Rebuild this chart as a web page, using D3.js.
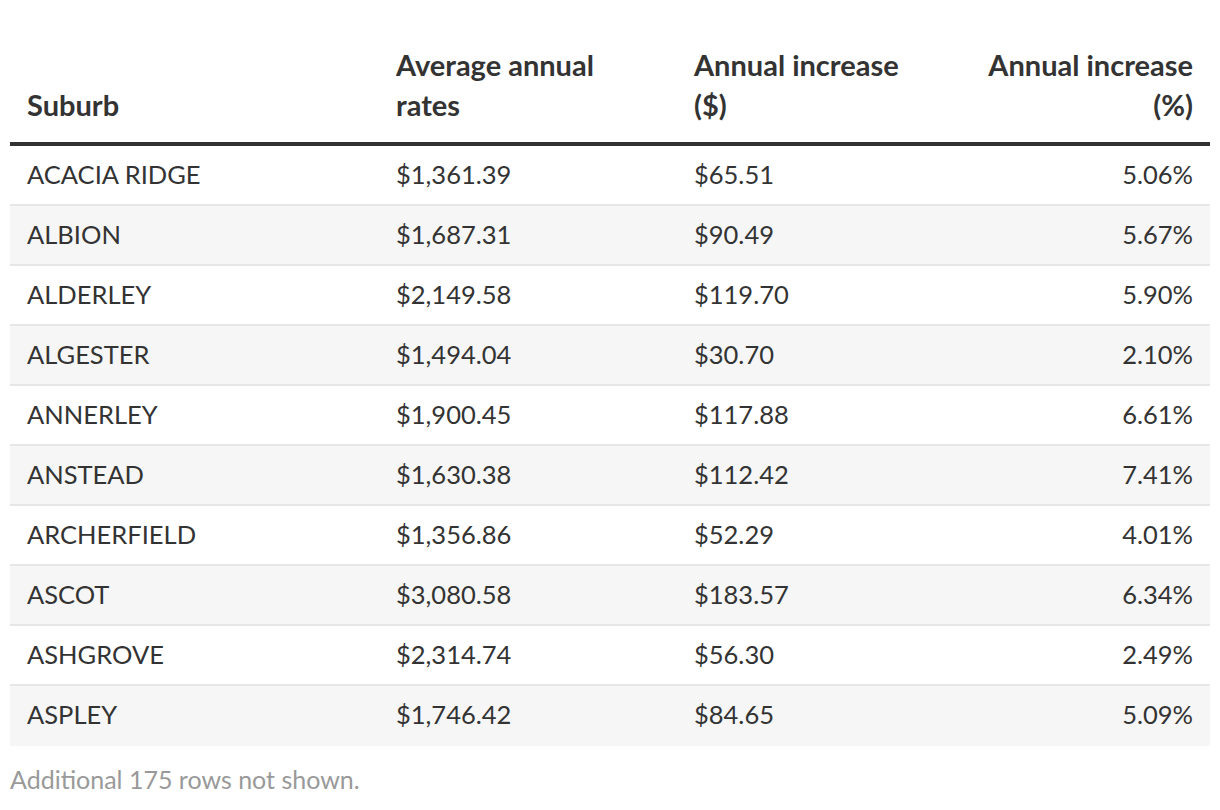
<!DOCTYPE html>
<html>
<head>
<meta charset="utf-8">
<script src="https://cdn.jsdelivr.net/npm/d3@7"></script>
<style>
  html, body { margin: 0; padding: 0; background: #fff; }
  svg { display: block; }
  text { font-family: Lato, "Noto Sans", sans-serif; }
</style>
</head>
<body>
<svg id="chart" width="1220" height="810"></svg>
<script>
const headers = [
  ["Suburb"],
  ["Average annual", "rates"],
  ["Annual increase", "($)"],
  ["Annual increase", "(%)"]
];
const suburbs = ["ACACIA RIDGE","ALBION","ALDERLEY","ALGESTER","ANNERLEY","ANSTEAD","ARCHERFIELD","ASCOT","ASHGROVE","ASPLEY"];
const avgRates = [1361.39,1687.31,2149.58,1494.04,1900.45,1630.38,1356.86,3080.58,2314.74,1746.42];
const incDollar = [65.51,90.49,119.70,30.70,117.88,112.42,52.29,183.57,56.30,84.65];
const incPct = [5.06,5.67,5.90,2.10,6.61,7.41,4.01,6.34,2.49,5.09];
const footnote = "Additional 175 rows not shown.";

const svg = d3.select("#chart");
const left = 10, right = 1210;
const bodyTop = 146, rowH = 60;

const rows = suburbs.map((s, i) => ({suburb: s, avg: avgRates[i], inc: incDollar[i], pct: incPct[i], i}));

const y = d3.scaleBand().domain(d3.range(rows.length)).range([bodyTop, bodyTop + rowH * rows.length]).paddingInner(0);

const money = d3.format("$,.2f");
const cols = [
  {x: 27, anchor: "start", f: d => d.suburb},
  {x: 396, anchor: "start", f: d => money(d.avg)},
  {x: 694, anchor: "start", f: d => money(d.inc)},
  {x: 1193, anchor: "end", f: d => d.pct.toFixed(2) + "%"}
];

// header
const hdr = svg.append("g");
headers.forEach((lines, c) => {
  const t = hdr.append("text")
    .attr("text-anchor", cols[c].anchor)
    .attr("font-weight", 700)
    .attr("font-size", 29)
    .attr("fill", "#333");
  const n = lines.length;
  lines.forEach((l, k) => {
    t.append("tspan").attr("x", cols[c].x).attr("y", 116 - (n - 1 - k) * 40).text(l);
  });
});
svg.append("rect").attr("x", left).attr("y", 142).attr("width", right - left).attr("height", 4).attr("fill", "#333");

// rows
const g = svg.append("g").selectAll("g").data(rows).join("g")
  .attr("transform", d => `translate(0,${y(d.i)})`);
g.append("rect").attr("x", left).attr("width", right - left).attr("height", y.bandwidth())
  .attr("fill", d => d.i % 2 === 1 ? "#f6f6f6" : "#fff");
g.filter(d => d.i < rows.length - 1).append("rect")
  .attr("x", left).attr("y", y.bandwidth() - 2).attr("width", right - left).attr("height", 2)
  .attr("fill", "#e6e6e6");
cols.forEach(c => {
  g.append("text")
    .attr("x", c.x).attr("y", 29).attr("dy", "0.35em")
    .attr("text-anchor", c.anchor)
    .attr("font-size", 25.5)
    .attr("fill", "#333")
    .text(c.f);
});

svg.append("text").attr("x", left).attr("y", 780).attr("dy", "0.35em")
  .attr("font-size", 25).attr("fill", "#999").text(footnote);
</script>
</body>
</html>
